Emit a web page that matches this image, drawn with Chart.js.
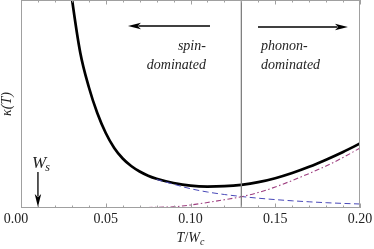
<!DOCTYPE html>
<html>
<head>
<meta charset="utf-8">
<script src="https://cdn.jsdelivr.net/npm/chart.js@4/dist/chart.umd.min.js"></script>
<style>
html,body{margin:0;padding:0;background:#fff;}
#wrap{width:374px;height:249px;position:relative;}
</style>
</head>
<body>
<div id="wrap"><canvas id="c" width="374" height="249"></canvas></div>
<script>
// ---- data ----
const tValues    = [0, 0.01, 0.02, 0.028, 0.03, 0.035, 0.04, 0.045, 0.05, 0.055, 0.06, 0.065, 0.07, 0.075, 0.08, 0.09, 0.10, 0.11, 0.12, 0.13, 0.14, 0.15, 0.16, 0.17, 0.18, 0.19, 0.20];
const kappaTotal = [null, null, null, 237, 210, 155, 121, 95, 75, 60, 49.5, 42, 36.5, 32.3, 29.2, 25, 22.3, 21.4, 21.8, 23.2, 25.8, 29.8, 35, 41.2, 48.3, 56, 64.5];
// spin part runs underneath the total curve at low T (hidden there in the picture)
const kappaSpin  = [null, null, null, null, null, null, null, null, null, null, null, null, null, null, 28.5, 23.8, 19.3, 16, 13.5, 11.5, 9.8, 8.4, 7.2, 6.2, 5.3, 4.6, 4.0];
const kappaPhonon= [0, 0, 0, 0, 0, 0, 0.05, 0.08, 0.1, 0.15, 0.2, 0.3, 0.4, 0.5, 0.7, 1.2, 3, 5.5, 8.3, 11.3, 15.5, 21, 27.5, 34.5, 42, 50.5, 60];
const crossoverT = 0.13;
const majorTicks = [0, 0.05, 0.10, 0.15, 0.20];
const tickLabels = ['0.00', '0.05', '0.10', '0.15', '0.20'];
const minorTicks = [0.01,0.02,0.03,0.04,0.06,0.07,0.08,0.09,0.11,0.12,0.13,0.14,0.16,0.17,0.18,0.19];
const yRange = [0, 208];
const wsT = 0.01;

const pts = arr => tValues.map((t,i)=>({x:t,y:arr[i]}));
const SERIF = '"Liberation Serif", "Times New Roman", serif';

const annot = {
  id:'annot',
  afterDatasetsDraw(chart){
    const {ctx, chartArea:a, scales:{x,y}} = chart;
    ctx.save();
    // frame
    ctx.strokeStyle='#a0a0a0'; ctx.lineWidth=1;
    ctx.strokeRect(a.left+0.5, a.top+0.5, a.right-a.left-1, a.bottom-a.top-1);
    // inward ticks
    const tick=(v,len)=>{
      const px=Math.round(x.getPixelForValue(v))+0.5;
      ctx.beginPath();
      ctx.moveTo(px,a.bottom); ctx.lineTo(px,a.bottom-len);
      ctx.moveTo(px,a.top); ctx.lineTo(px,a.top+len);
      ctx.stroke();
    };
    majorTicks.forEach(v=>tick(v,4.5));
    minorTicks.forEach(v=>tick(v,2.5));
    // tick labels
    ctx.fillStyle='#222';
    ctx.font='14px '+SERIF;
    ctx.textAlign='center'; ctx.textBaseline='alphabetic';
    majorTicks.forEach((v,i)=>{
      const off = i===0 ? -5 : 0;
      ctx.fillText(tickLabels[i], x.getPixelForValue(v)+off, a.bottom+15);
    });
    // arrows
    const arrow=(x1,y1,x2,y2)=>{
      ctx.strokeStyle='#000'; ctx.fillStyle='#000'; ctx.lineWidth=1.3;
      const ang=Math.atan2(y2-y1,x2-x1), L=13, W=3.2;
      ctx.beginPath(); ctx.moveTo(x1,y1);
      ctx.lineTo(x2-Math.cos(ang)*L*0.8, y2-Math.sin(ang)*L*0.8); ctx.stroke();
      ctx.beginPath(); ctx.moveTo(x2,y2);
      ctx.lineTo(x2-Math.cos(ang)*L-Math.sin(ang)*W, y2-Math.sin(ang)*L+Math.cos(ang)*W);
      ctx.lineTo(x2-Math.cos(ang)*L*0.75, y2-Math.sin(ang)*L*0.75);
      ctx.lineTo(x2-Math.cos(ang)*L+Math.sin(ang)*W, y2-Math.sin(ang)*L-Math.cos(ang)*W);
      ctx.closePath(); ctx.fill();
    };
    arrow(x.getPixelForValue(0.1115), y.getPixelForValue(182), x.getPixelForValue(0.0631), y.getPixelForValue(182));
    arrow(x.getPixelForValue(0.1398), y.getPixelForValue(181), x.getPixelForValue(0.1929), y.getPixelForValue(181));
    arrow(x.getPixelForValue(wsT), y.getPixelForValue(36), x.getPixelForValue(wsT), y.getPixelForValue(1));
    // texts
    ctx.fillStyle='#222';
    ctx.font='italic 14px '+SERIF;
    ctx.textAlign='right';
    ctx.fillText('spin-', x.getPixelForValue(0.1091), y.getPixelForValue(158));
    ctx.fillText('dominated', x.getPixelForValue(0.1091), y.getPixelForValue(139));
    ctx.textAlign='left';
    ctx.fillText('phonon-', x.getPixelForValue(0.1416), y.getPixelForValue(158));
    ctx.fillText('dominated', x.getPixelForValue(0.1416), y.getPixelForValue(139));
    // W_s
    ctx.font='italic 17px '+SERIF;
    const wx=x.getPixelForValue(0.0065), wy=y.getPixelForValue(40);
    ctx.fillText('W', wx, wy);
    const ww=ctx.measureText('W').width;
    ctx.font='italic 12px '+SERIF;
    ctx.fillText('s', wx+ww-1, wy+3);
    // x title T/W_c
    const parts=[['T','italic 14px '+SERIF,0],['/','14px '+SERIF,0],['W','italic 14px '+SERIF,0],['c','italic 10px '+SERIF,3]];
    let total=0; parts.forEach(p=>{ctx.font=p[1]; total+=ctx.measureText(p[0]).width;});
    let cx=(a.left+a.right)/2 - total/2; const by=242;
    parts.forEach(p=>{ctx.font=p[1]; ctx.fillText(p[0],cx,by+p[2]); cx+=ctx.measureText(p[0]).width;});
    // y title
    ctx.translate(11,(a.top+a.bottom)/2);
    ctx.rotate(-Math.PI/2);
    ctx.textAlign='center';
    ctx.font='italic 14px '+SERIF;
    ctx.fillText('\u03BA(T)',0,0);
    ctx.restore();
  }
};

new Chart(document.getElementById('c'),{
  type:'line',
  data:{
    datasets:[
      {label:'crossover', data:[{x:crossoverT,y:yRange[0]},{x:crossoverT,y:yRange[1]}], borderColor:'#808080', borderWidth:1.3, pointRadius:0},
      {label:'phonon', data:pts(kappaPhonon), borderColor:'#9e3f80', borderWidth:1.1, borderDash:[5,2.5,1.5,2.5], pointRadius:0, cubicInterpolationMode:'monotone'},
      {label:'spin', data:pts(kappaSpin), borderColor:'#4848b8', borderWidth:1.0, borderDash:[6,3.5], pointRadius:0, cubicInterpolationMode:'monotone'},
      {label:'total', data:pts(kappaTotal), borderColor:'#000', borderWidth:2.7, pointRadius:0, cubicInterpolationMode:'monotone'}
    ]
  },
  options:{
    responsive:false, animation:false, devicePixelRatio:1,
    layout:{padding:{left:21,right:14,top:0,bottom:0}},
    plugins:{legend:{display:false}, tooltip:{enabled:false}},
    scales:{
      x:{type:'linear', min:0, max:0.2,
        grid:{display:false, drawTicks:false}, border:{display:false},
        afterFit:s=>{s.height=41;},
        ticks:{display:false}
      },
      y:{display:false, min:yRange[0], max:yRange[1]}
    }
  },
  plugins:[annot]
});
</script>
</body>
</html>
